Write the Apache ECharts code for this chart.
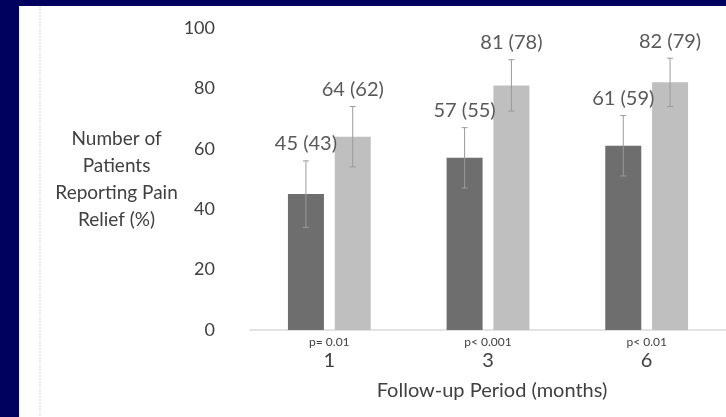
<!DOCTYPE html>
<html>
<head>
<meta charset="utf-8">
<script src="https://cdn.jsdelivr.net/npm/echarts@6/dist/echarts.min.js"></script>
<style>
  html, body { margin: 0; padding: 0; }
  body { width: 726px; height: 417px; background: #00005f; position: relative; overflow: hidden; }
  #chart { position: absolute; left: 19px; top: 6px; width: 707px; height: 411px; background: #fff; }
</style>
</head>
<body>
<div id="chart"></div>
<script>
  // data
  var months = ['1', '3', '6']
  var pValues = ['p= 0.01', 'p< 0.001', 'p< 0.01']
  var darkPct = [45, 57, 61]
  var darkN = [43, 55, 59]
  var darkErr = [11, 10, 10]
  var lightPct = [64, 81, 82]
  var lightN = [62, 78, 79]
  var lightErr = [10, 8.5, 8]
  var yTicks = [0, 20, 40, 60, 80, 100]

  var FONT = 'Lato'
  var BAR_W = 36
  var BAR_GAP = 0.3

  var chart = echarts.init(document.getElementById('chart'))

  // whiskers plus the "pct (n)" label above each bar
  function errorSeries (vals, counts, errs, side) {
    var data = vals.map(function (v, i) { return [i, v - errs[i], v + errs[i], v, counts[i]] })
    return {
      type: 'custom',
      silent: true,
      z: 5,
      data: data,
      renderItem: function (params, api) {
        var lo = api.coord([api.value(0), api.value(1)])
        var hi = api.coord([api.value(0), api.value(2)])
        var x = lo[0] + side * BAR_W * (1 + BAR_GAP) / 2
        var cap = 3
        var stroke = { stroke: '#9a9a9a', lineWidth: 1 }
        return {
          type: 'group',
          children: [
            { type: 'line', shape: { x1: x, y1: lo[1], x2: x, y2: hi[1] }, style: stroke },
            { type: 'line', shape: { x1: x - cap, y1: hi[1], x2: x + cap, y2: hi[1] }, style: stroke },
            { type: 'line', shape: { x1: x - cap, y1: lo[1], x2: x + cap, y2: lo[1] }, style: stroke },
            {
              type: 'text',
              x: x,
              y: hi[1] - 7,
              style: {
                text: api.value(3) + ' (' + api.value(4) + ')',
                fill: '#595959',
                font: '20px ' + FONT,
                align: 'center',
                verticalAlign: 'bottom',
              },
            },
          ],
        }
      },
    }
  }

  var option = {
    animation: false,
    textStyle: { fontFamily: FONT },
    grid: { left: 231, top: 22, width: 486, height: 302 },
    graphic: [
      {
        type: 'line',
        shape: { x1: 21, y1: 0, x2: 21, y2: 411 },
        style: { stroke: '#e4e4e4', lineWidth: 1.5, lineDash: [2, 1] },
      },
    ],
    xAxis: {
      type: 'category',
      data: months,
      name: 'Follow-up Period (months)',
      nameLocation: 'middle',
      nameGap: 51,
      nameTextStyle: { color: '#404040', fontSize: 20, fontFamily: FONT, padding: [0, 0, 0, 8] },
      axisLine: { lineStyle: { color: '#d9d9d9', width: 1.5, type: [2, 1] } },
      axisTick: { show: false },
      axisLabel: {
        margin: 5,
        formatter: function (v, i) { return '{p|' + pValues[i] + '}\n{n|' + v + '}' },
        rich: {
          p: { fontSize: 12, lineHeight: 14, color: '#404040', fontFamily: FONT },
          n: { fontSize: 20, lineHeight: 24, color: '#404040', fontFamily: FONT },
        },
      },
    },
    yAxis: {
      type: 'value',
      min: 0,
      max: 100,
      interval: 20,
      name: 'Number of\nPatients\nReporting Pain\nRelief (%)',
      nameLocation: 'middle',
      nameRotate: 0,
      nameGap: 108,
      nameTextStyle: { color: '#404040', fontSize: 19, lineHeight: 27, align: 'center', fontFamily: FONT, padding: [0, 0, 20, 0] },
      axisLine: { show: false },
      axisTick: { show: false },
      splitLine: { show: false },
      axisLabel: {
        margin: 35,
        color: '#404040',
        fontSize: 18,
        formatter: function (v) { return yTicks.indexOf(v) >= 0 ? String(v) : '' },
      },
    },
    series: [
      { type: 'bar', data: darkPct, barWidth: BAR_W, barGap: '30%', itemStyle: { color: '#6e6e6e' } },
      { type: 'bar', data: lightPct, barWidth: BAR_W, barGap: '30%', itemStyle: { color: '#bfbfbf' } },
      errorSeries(darkPct, darkN, darkErr, -1),
      errorSeries(lightPct, lightN, lightErr, 1),
    ],
  }
  chart.setOption(option)
</script>
</body>
</html>
